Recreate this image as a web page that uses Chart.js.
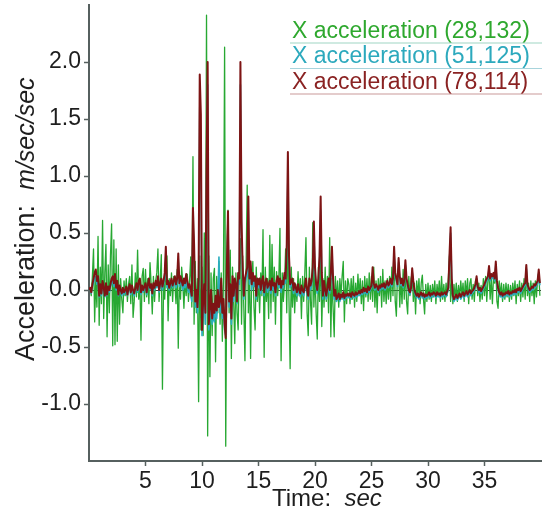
<!DOCTYPE html>
<html>
<head>
<meta charset="utf-8">
<script src="https://cdn.jsdelivr.net/npm/chart.js@4.4.1/dist/chart.umd.min.js"></script>
<style>
  html, body { margin: 0; padding: 0; background: #fff; }
  #wrap { width: 542px; height: 512px; position: relative; }
</style>
</head>
<body>
<div id="wrap"><canvas id="acc"></canvas></div>
<script>
/* ── Sampling ───────────────────────── */
const DT = 0.1;                       // seconds between samples
const xTicks = [5, 10, 15, 20, 25, 30, 35];
const yTicks = [-1.0, -0.5, 0.0, 0.5, 1.0, 1.5, 2.0];

/* ── X acceleration, sensor (28,132) ── */
const accGreen = [
  0.0, 0.02, -0.05, 0.12, 0.36, -0.28, 0.1, -0.15, 0.47, -0.31,
  0.2, -0.12, 0.61, -0.25, 0.15, 0.40, -0.41, 0.22, -0.2, 0.3,
  0.58, -0.49, 0.44, -0.48, 0.36, -0.45, 0.22, -0.3, 0.1, -0.08,
  -0.2, 0.08, -0.05, 0.1, -0.1, 0.05, 0.12, -0.12, 0.22, -0.24,
  -0.1, 0.15, -0.06, 0.35, -0.08, 0.1, -0.44, 0.12, 0.19, -0.1,
  0.18, -0.06, 0.1, -0.12, 0.24, 0.05, -0.21, 0.12, -0.1, 0.08,
  0.15, 0.36, -0.1, 0.08, 0.31, -0.87, 0.1, -0.08, 0.2, 0.3,
  -0.27, 0.1, -0.05, 0.15, -0.1, 0.12, 0.05, -0.12, 0.18, -0.51,
  0.12, -0.08, 0.2, 0.06, -0.16, 0.1, -0.05, 0.14, -0.1, 0.08,
  0.29, -0.15, 1.17, -0.3, 0.25, -0.2, 0.1, -0.98, 0.3, -0.35,
  0.2, -0.4, 0.5, -0.3, 2.41, -1.28, 0.3, -0.76, 0.15, -0.4,
  0.1, 0.19, -0.63, 0.12, -0.2, 0.25, -0.3, 0.15, -0.45, 0.1,
  2.13, -1.37, 0.3, 0.7, -0.2, 0.35, -0.6, 0.2, -0.1, -0.47,
  0.15, -0.2, -0.35, 0.2, 0.45, -0.3, 0.3, -0.15, -0.62, 0.2,
  0.92, -0.2, 0.2, -0.6, 0.15, 0.25, -0.15, -0.35, 0.2, -0.1,
  0.1, -0.2, 0.15, -0.05, 0.53, -0.59, 0.2, -0.1, 0.1, -0.25,
  0.48, -0.2, 0.40, -0.1, 0.2, -0.3, 0.16, -0.05, 0.1, 0.54,
  -0.62, 0.15, -0.1, 0.05, 0.36, -0.2, 0.5, -0.1, -0.69, 0.2,
  -0.15, 0.1, -0.2, 0.05, -0.1, 0.16, -0.05, 0.1, -0.25, 0.12,
  -0.1, 0.15, 0.46, -0.2, -0.4, 0.2, -0.1, -0.3, 0.59, -0.15,
  0.15, -0.2, -0.43, 0.2, -0.1, 0.35, -0.32, 0.1, -0.15, 0.2,
  -0.1, 0.12, -0.2, 0.46, -0.41, 0.1, -0.15, -0.41, 0.12, -0.1,
  0.08, -0.15, 0.1, -0.05, 0.12, 0.25, -0.28, 0.08, -0.12, 0.1,
  0.05, -0.12, 0.1, -0.08, 0.12, -0.15, 0.06, -0.1, 0.14, -0.05,
  0.1, -0.12, 0.08, -0.18, 0.12, -0.06, 0.1, -0.1, 0.15, -0.08,
  0.12, -0.1, 0.2, -0.15, 0.08, -0.2, 0.1, -0.05, 0.12, -0.15,
  0.18, -0.1, 0.08, -0.12, 0.1, -0.08, 0.12, -0.1, 0.2, -0.05,
  0.3, -0.1, -0.23, 0.15, 0.2, -0.15, 0.1, -0.12, 0.18, -0.08,
  0.2, -0.1, -0.21, 0.12, -0.05, 0.1, 0.15, -0.1, 0.06, -0.21,
  0.08, -0.05, 0.1, -0.12, 0.06, 0.13, -0.08, -0.21, 0.05, -0.1,
  0.06, -0.08, 0.04, -0.1, 0.05, -0.06, 0.08, -0.12, 0.05, -0.05,
  0.08, -0.1, 0.12, -0.08, 0.05, -0.1, 0.06, -0.05, 0.1, 0.3,
  -0.1, 0.08, -0.12, 0.05, -0.08, 0.06, -0.1, 0.04, -0.06, 0.08,
  -0.05, 0.06, -0.1, 0.08, -0.05, 0.1, -0.12, 0.06, 0.1, -0.08,
  0.05, -0.1, 0.08, 0.1, -0.05, 0.06, -0.1, 0.04, -0.08, 0.1,
  -0.05, 0.12, -0.1, 0.08, 0.15, -0.08, 0.1, -0.12, 0.12, 0.06,
  0.2, -0.1, -0.16, 0.08, -0.05, 0.06, -0.1, 0.05, -0.08, 0.06,
  -0.06, 0.05, -0.1, 0.04, -0.08, 0.06, -0.05, 0.08, -0.12, 0.05,
  -0.05, 0.08, -0.1, 0.06, -0.06, 0.1, -0.08, 0.2, -0.05, 0.06,
  -0.1, 0.08, -0.05, 0.06, -0.12, 0.08, -0.06, 0.1, 0.15, -0.05
];

/* ── X acceleration, sensor (51,125) ── */
const accCyan = [
  0.0, 0.01, -0.03, 0.03, 0.06, 0.1, 0.12, 0.05, 0.08, -0.06,
  0.02, -0.05, 0.05, 0.0, -0.06, 0.04, -0.05, 0.02, -0.02, 0.03,
  0.06, 0.08, 0.03, 0.1, 0.0, 0.05, -0.05, 0.02, -0.02, -0.05,
  0.0, -0.04, -0.02, 0.01, -0.05, 0.0, 0.03, -0.04, 0.02, -0.02,
  -0.05, 0.0, 0.04, -0.02, 0.05, 0.07, -0.04, 0.02, -0.02, 0.01,
  0.04, -0.04, 0.02, 0.07, 0.0, 0.03, -0.05, 0.04, 0.0, 0.05,
  0.02, 0.09, -0.02, 0.04, 0.07, 0.0, 0.05, 0.1, 0.3, 0.02,
  0.05, 0.0, 0.03, 0.07, 0.02, 0.05, 0.08, 0.02, 0.06, 0.25,
  0.03, 0.08, 0.05, 0.0, 0.05, 0.02, 0.08, 0.03, -0.02, 0.0,
  -0.05, -0.1, 0.6, 0.3, -0.15, -0.08, -0.2, 0.0, 1.6, 1.3,
  -0.4, -0.2, -0.05, -0.3, 0.9, 1.8, -0.35, -0.25, -0.1, -0.3,
  -0.2, -0.28, -0.15, -0.25, -0.1, 0.29, -0.2, 0.05, -0.25, -0.15,
  -0.35, -0.4, 0.1, 0.6, -0.15, 0.0, -0.3, 0.05, -0.1, 0.05,
  0.0, -0.12, 0.1, 0.05, 1.8, 0.5, 0.1, -0.08, 0.05, 0.1,
  0.12, 0.7, 0.05, 0.18, 0.0, 0.1, 0.03, 0.08, -0.08, 0.05,
  0.02, 0.06, -0.03, 0.04, 0.08, -0.05, 0.02, 0.06, -0.02, 0.02,
  0.04, -0.03, 0.06, 0.0, 0.03, -0.05, 0.04, 0.08, 0.02, 0.06,
  -0.02, 0.04, 0.02, 0.1, 0.06, 0.3, 1.0, 0.25, 0.02, 0.04,
  0.06, -0.03, 0.03, -0.01, -0.05, 0.02, -0.03, -0.06, 0.01, -0.03,
  -0.05, 0.0, 0.06, -0.03, -0.08, 0.06, 0.0, 0.04, 0.15, 0.5,
  0.15, 0.02, -0.03, 0.06, 0.25, 0.7, 0.1, -0.08, 0.04, -0.03,
  -0.08, -0.02, 0.06, -0.03, 0.1, 0.3, 0.06, -0.08, -0.03, -0.1,
  -0.08, -0.05, -0.1, -0.06, -0.08, -0.04, -0.09, -0.06, -0.07, -0.05,
  -0.07, -0.05, -0.08, -0.04, -0.06, -0.07, -0.04, -0.06, -0.05, -0.03,
  -0.05, -0.02, -0.04, 0.0, -0.03, -0.01, -0.04, 0.01, -0.02, 0.0,
  0.02, 0.15, 0.04, 0.0, 0.03, 0.01, -0.02, 0.02, 0.0, 0.03,
  0.01, 0.04, 0.0, 0.03, 0.06, 0.02, 0.04, 0.08, 0.03, 0.08,
  0.32, 0.12, 0.08, 0.03, 0.24, 0.1, 0.04, 0.08, 0.02, 0.06,
  0.22, 0.08, 0.03, -0.02, -0.04, 0.0, 0.16, 0.06, -0.02, -0.05,
  -0.07, -0.05, -0.08, -0.06, -0.04, -0.07, -0.05, -0.08, -0.06, -0.07,
  -0.06, -0.04, -0.07, -0.05, -0.06, -0.04, -0.05, -0.07, -0.04, -0.06,
  -0.05, -0.07, -0.04, -0.06, -0.05, -0.04, -0.06, -0.03, 0.0, 0.25,
  0.5, 0.08, -0.07, -0.1, -0.08, -0.06, -0.09, -0.07, -0.05, -0.08,
  -0.06, -0.04, -0.07, -0.05, -0.03, -0.06, -0.04, -0.02, -0.05, -0.03,
  -0.02, 0.0, 0.03, 0.1, 0.01, -0.02, 0.0, -0.03, -0.01, 0.01,
  0.03, 0.06, 0.08, 0.1, 0.18, 0.08, 0.12, 0.1, 0.13, 0.08,
  0.22, 0.06, 0.0, -0.04, -0.06, -0.04, -0.07, -0.05, -0.06, -0.04,
  -0.05, -0.03, -0.06, -0.04, -0.05, -0.03, -0.04, -0.02, -0.04, -0.01,
  -0.02, 0.0, -0.03, -0.01, 0.01, 0.03, 0.04, 0.19, 0.03, 0.0,
  -0.02, -0.01, 0.01, 0.0, 0.03, 0.02, 0.04, 0.06, 0.15, 0.04
];

/* ── X acceleration, sensor (78,114) ── */
const accRed = [
  0.0, 0.02, -0.02, 0.05, 0.1, 0.15, 0.18, 0.08, 0.12, -0.05,
  0.05, -0.03, 0.08, 0.02, -0.05, 0.06, -0.04, 0.03, 0.0, 0.05,
  0.1, 0.12, 0.06, 0.14, 0.02, 0.08, -0.04, 0.04, 0.0, -0.03,
  0.02, -0.02, 0.0, 0.03, -0.04, 0.02, 0.05, -0.02, 0.04, 0.0,
  -0.03, 0.02, 0.06, 0.0, 0.08, 0.1, -0.02, 0.04, 0.0, 0.03,
  0.06, -0.02, 0.04, 0.1, 0.02, 0.05, -0.03, 0.06, 0.02, 0.08,
  0.04, 0.12, 0.0, 0.06, 0.1, 0.03, 0.08, 0.15, 0.38, 0.05,
  0.08, 0.02, 0.06, 0.1, 0.04, 0.08, 0.12, 0.05, 0.1, 0.32,
  0.06, 0.12, 0.08, 0.04, 0.1, 0.06, 0.14, 0.08, 0.02, 0.05,
  0.0, -0.05, 0.72, 0.4, -0.1, 0.0, -0.15, 0.1, 1.89, 1.54,
  -0.35, -0.1, 0.05, -0.2, 1.05, 2.0, -0.3, -0.15, 0.0, -0.25,
  -0.12, -0.2, -0.05, -0.18, 0.0, -0.15, -0.1, 0.1, -0.2, -0.08,
  -0.3, -0.42, 0.2, 0.69, -0.1, 0.05, -0.25, 0.12, -0.05, 0.1,
  0.05, -0.1, 0.15, 0.1, 2.0, 0.6, 0.2, -0.05, 0.1, 0.15,
  0.2, 0.82, 0.1, 0.25, 0.05, 0.15, 0.08, 0.12, -0.05, 0.1,
  0.05, 0.1, 0.0, 0.08, 0.12, -0.02, 0.06, 0.1, 0.02, 0.05,
  0.08, 0.0, 0.1, 0.04, 0.06, -0.02, 0.08, 0.12, 0.05, 0.1,
  0.02, 0.08, 0.05, 0.15, 0.1, 0.4, 1.21, 0.3, 0.05, 0.08,
  0.1, 0.0, 0.06, 0.02, -0.02, 0.05, 0.0, -0.03, 0.04, 0.0,
  -0.02, 0.03, 0.1, 0.0, -0.05, 0.1, 0.04, 0.08, 0.2, 0.6,
  0.2, 0.05, 0.0, 0.1, 0.3, 0.82, 0.15, -0.05, 0.08, 0.0,
  -0.05, 0.02, 0.1, 0.0, 0.15, 0.38, 0.1, -0.05, 0.0, -0.08,
  -0.06, -0.03, -0.08, -0.04, -0.06, -0.02, -0.07, -0.04, -0.05, -0.03,
  -0.05, -0.03, -0.06, -0.02, -0.04, -0.05, -0.02, -0.04, -0.03, -0.01,
  -0.03, 0.0, -0.02, 0.02, -0.01, 0.01, -0.02, 0.03, 0.0, 0.02,
  0.04, 0.2, 0.06, 0.02, 0.05, 0.03, 0.0, 0.04, 0.02, 0.05,
  0.03, 0.06, 0.02, 0.05, 0.08, 0.04, 0.06, 0.1, 0.05, 0.1,
  0.38, 0.15, 0.1, 0.05, 0.28, 0.12, 0.06, 0.1, 0.04, 0.08,
  0.26, 0.1, 0.05, 0.0, -0.02, 0.02, 0.19, 0.08, 0.0, -0.03,
  -0.05, -0.03, -0.06, -0.04, -0.02, -0.05, -0.03, -0.06, -0.04, -0.05,
  -0.04, -0.02, -0.05, -0.03, -0.04, -0.02, -0.03, -0.05, -0.02, -0.04,
  -0.03, -0.05, -0.02, -0.04, -0.03, -0.02, -0.04, -0.01, 0.02, 0.3,
  0.55, 0.1, -0.05, -0.08, -0.06, -0.04, -0.07, -0.05, -0.03, -0.06,
  -0.04, -0.02, -0.05, -0.03, -0.01, -0.04, -0.02, 0.0, -0.03, -0.01,
  0.0, 0.02, 0.05, 0.12, 0.03, 0.0, 0.02, -0.01, 0.01, 0.03,
  0.05, 0.08, 0.1, 0.12, 0.21, 0.1, 0.14, 0.12, 0.15, 0.1,
  0.25, 0.08, 0.02, -0.02, -0.04, -0.02, -0.05, -0.03, -0.04, -0.02,
  -0.03, -0.01, -0.04, -0.02, -0.03, -0.01, -0.02, 0.0, -0.02, 0.01,
  0.0, 0.02, -0.01, 0.01, 0.03, 0.05, 0.06, 0.22, 0.05, 0.02,
  0.0, 0.01, 0.03, 0.02, 0.05, 0.04, 0.06, 0.08, 0.18, 0.06
];

const seriesLabels = [
  'X acceleration (28,132)',
  'X acceleration (51,125)',
  'X acceleration (78,114)'
];

/* ── Look ───────────────────────────── */
const FONT    = '"Liberation Sans", Arial, Helvetica, sans-serif';
const AXIS    = '#56605f';
const TEXT    = '#1e1e1e';
const GREEN   = '#27a832';
const CYAN    = '#2aaebf';
const RED     = '#7e1414';

function toPoints(arr) {
  return arr.map((v, i) => ({ x: +(i * DT).toFixed(1), y: v }));
}

/* legend with underlines + axis titles with italic units */
const decorations = {
  id: 'decorations',
  afterDraw(chart) {
    const c = chart.ctx;
    c.save();

    // legend, top right
    const rows = [
      { color: '#2ea82e', line: '#9fd6c4' },
      { color: '#2ca9bd', line: '#a8d4dc' },
      { color: '#8a2222', line: '#c99a9a' }
    ];
    c.font = '23px ' + FONT;
    c.textBaseline = 'alphabetic';
    c.textAlign = 'left';
    rows.forEach((r, k) => {
      const base = 37.5 + k * 25.5;
      c.fillStyle = r.color;
      c.fillText(chart.data.datasets[k].label, 292, base);
      c.strokeStyle = r.line;
      c.lineWidth = 1.2;
      c.beginPath();
      c.moveTo(290, base + 5.5);
      c.lineTo(542, base + 5.5);
      c.stroke();
    });

    // x title
    c.fillStyle = TEXT;
    c.font = '24px ' + FONT;
    const tA = 'Time:  ';
    c.fillText(tA, 272, 506);
    const wA = c.measureText(tA).width;
    c.font = 'italic 24px ' + FONT;
    c.fillText('sec', 272 + wA, 506);

    // y title, rotated
    c.translate(34, 361);
    c.rotate(-Math.PI / 2);
    c.font = '27px ' + FONT;
    const yA = 'Acceleration:  ';
    c.fillText(yA, 0, 0);
    const wY = c.measureText(yA).width;
    c.font = 'italic 25px ' + FONT;
    c.fillText('m/sec/sec', wY, 0);

    c.restore();
  }
};

new Chart(document.getElementById('acc'), {
  type: 'line',
  data: {
    datasets: [
      { label: seriesLabels[0], data: toPoints(accGreen), borderColor: GREEN, borderWidth: 1.3, order: 3 },
      { label: seriesLabels[1], data: toPoints(accCyan),  borderColor: CYAN,  borderWidth: 1.6, order: 2 },
      { label: seriesLabels[2], data: toPoints(accRed),   borderColor: RED,   borderWidth: 2,   order: 1 }
    ]
  },
  options: {
    responsive: true,
    maintainAspectRatio: false,
    devicePixelRatio: 1,
    animation: false,
    layout: { padding: { top: 5, right: 1, left: 0, bottom: 0 } },
    elements: {
      point: { radius: 0 },
      line: { tension: 0, borderJoinStyle: 'round' }
    },
    plugins: {
      legend: { display: false },
      tooltip: { enabled: false }
    },
    scales: {
      x: {
        type: 'linear',
        min: 0,
        max: 40,
        afterBuildTicks: s => { s.ticks = xTicks.map(v => ({ value: v })); },
        afterFit: s => { s.height = 51; s.paddingLeft = 0; s.paddingRight = 0; },
        border: { color: AXIS, width: 2 },
        grid: { drawOnChartArea: false, tickLength: 5, color: AXIS, tickWidth: 1.5 },
        ticks: { color: TEXT, font: { family: FONT, size: 23 }, padding: 2, maxRotation: 0, autoSkip: false }
      },
      y: {
        min: -1.5,
        max: 2.5,
        afterBuildTicks: s => { s.ticks = yTicks.map(v => ({ value: v })); },
        // the outer ticks sit well inside the axis, so no label overhang
        afterFit: s => { s.width = 89; s.paddingTop = 0; s.paddingBottom = 0; },
        border: { color: AXIS, width: 2 },
        grid: {
          color: ctx => (ctx.tick && ctx.tick.value === 0 ? '#3a3a3a' : 'rgba(0,0,0,0)'),
          lineWidth: 1,
          tickColor: AXIS,
          tickLength: 5,
          tickWidth: 1.5
        },
        ticks: {
          color: TEXT,
          font: { family: FONT, size: 23 },
          padding: 3,
          autoSkip: false,
          callback: v => v.toFixed(1)
        }
      }
    }
  },
  plugins: [decorations]
});
</script>
</body>
</html>
